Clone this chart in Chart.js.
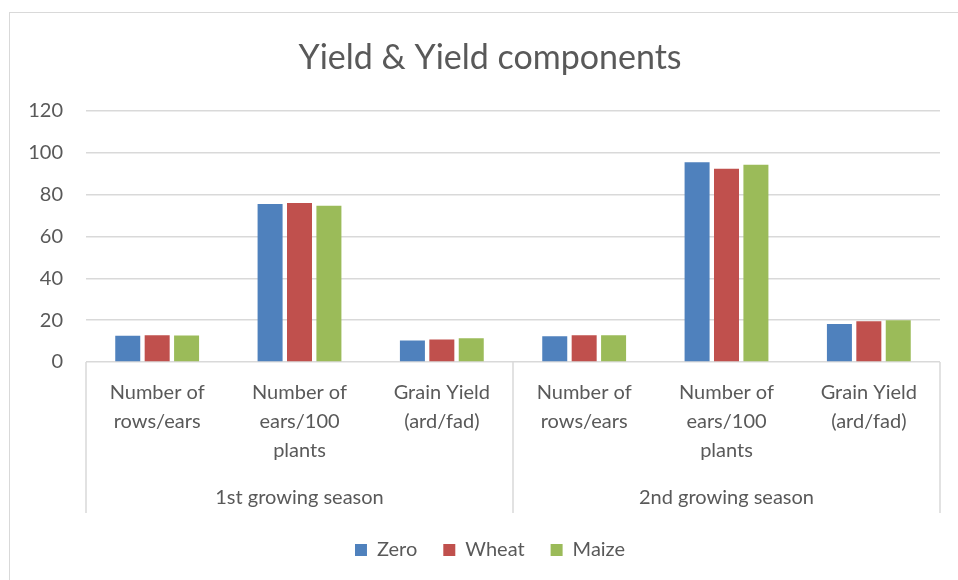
<!DOCTYPE html>
<html lang="en">
<head>
  <meta charset="UTF-8">
  <title>Yield &amp; Yield components</title>
  <script src="https://cdn.jsdelivr.net/npm/chart.js"></script>
  <style>
    html, body {
      margin: 0;
      padding: 0;
      background: #fff;
      overflow: hidden;
    }
    .frame {
      position: absolute;
      left: 9px;
      top: 12px;
      width: 1000px;
      height: 700px;
      border: 1.5px solid #d9d9d9;
    }
    .chart-box {
      position: absolute;
      left: 0;
      top: 0;
      width: 990px;
      height: 580px;
    }
  </style>
</head>
<body>
  <div class="frame"></div>
  <div class="chart-box">
    <canvas id="yieldChart" width="990" height="580"></canvas>
  </div>

  <script>
    const components = [
      ['Number of', 'rows/ears'],
      ['Number of', 'ears/100', 'plants'],
      ['Grain Yield', '(ard/fad)'],
      ['Number of', 'rows/ears'],
      ['Number of', 'ears/100', 'plants'],
      ['Grain Yield', '(ard/fad)']
    ];
    const seasons = ['1st growing season', '2nd growing season'];

    const zeroValues  = [12.5, 75.5, 10.3, 12.3, 95.4, 18.2];
    const wheatValues = [12.8, 76.0, 10.7, 12.8, 92.3, 19.5];
    const maizeValues = [12.7, 74.7, 11.4, 12.8, 94.2, 19.9];

    const yTicks = [0, 20, 40, 60, 80, 100, 120];

    const textColor = '#595959';
    const lineColor = '#d9d9d9';
    const fontFamily = 'Lato, "Open Sans", sans-serif';

    // vertical separators of the two level category axis
    const groupLines = {
      id: 'groupLines',
      afterDraw(chart) {
        const ctx = chart.ctx;
        const area = chart.chartArea;
        const x = chart.scales.x;
        const mid = (x.getPixelForValue(2) + x.getPixelForValue(3)) / 2;
        ctx.save();
        ctx.strokeStyle = lineColor;
        ctx.lineWidth = 1.5;
        [area.left, mid, area.right].forEach(px => {
          ctx.beginPath();
          ctx.moveTo(px, area.bottom);
          ctx.lineTo(px, 513);
          ctx.stroke();
        });
        ctx.restore();
      }
    };

    new Chart(document.getElementById('yieldChart'), {
      type: 'bar',
      data: {
        labels: components,
        datasets: [
          { label: 'Zero',  data: zeroValues,  backgroundColor: '#4f81bd' },
          { label: 'Wheat', data: wheatValues, backgroundColor: '#c0504d' },
          { label: 'Maize', data: maizeValues, backgroundColor: '#9bbb59' }
        ]
      },
      options: {
        responsive: false,
        animation: false,
        datasets: {
          bar: {
            categoryPercentage: 0.62,
            barPercentage: 0.85
          }
        },
        layout: {
          padding: { left: 4, right: 14, top: 0, bottom: 10 }
        },
        plugins: {
          title: {
            display: true,
            text: 'Yield & Yield components',
            color: textColor,
            font: { family: fontFamily, size: 34, weight: 'normal', lineHeight: 1.2 },
            padding: { top: 38, bottom: 32 }
          },
          legend: {
            position: 'bottom',
            labels: {
              color: textColor,
              font: { family: fontFamily, size: 20 },
              boxWidth: 12,
              boxHeight: 12,
              padding: 26
            }
          },
          tooltip: { enabled: false }
        },
        scales: {
          x: {
            grid: { display: false, drawTicks: false },
            border: { display: false },
            ticks: {
              color: textColor,
              font: { family: fontFamily, size: 20, lineHeight: 1.45 },
              maxRotation: 0,
              autoSkip: false,
              padding: 16
            }
          },
          x2: {
            type: 'category',
            position: 'bottom',
            labels: seasons,
            grid: { display: false, drawTicks: false },
            border: { display: false },
            ticks: {
              color: textColor,
              font: { family: fontFamily, size: 20, lineHeight: 1.45 },
              maxRotation: 0,
              padding: 2
            }
          },
          y: {
            min: yTicks[0],
            max: yTicks[yTicks.length - 1],
            afterBuildTicks(axis) {
              axis.ticks = yTicks.map(v => ({ value: v }));
            },
            afterFit(axis) {
              axis.width = 82;
            },
            grid: { color: lineColor, lineWidth: 1.5, drawTicks: false },
            border: { display: false },
            ticks: {
              color: textColor,
              font: { family: fontFamily, size: 20 },
              padding: 23
            }
          },
          // empty right-hand axis, only keeps space so the title sits where it should
          yRight: {
            position: 'right',
            grid: { display: false, drawTicks: false },
            border: { display: false },
            ticks: { display: false },
            afterFit(axis) {
              axis.width = 36;
            }
          }
        }
      },
      plugins: [groupLines]
    });
  </script>
</body>
</html>
